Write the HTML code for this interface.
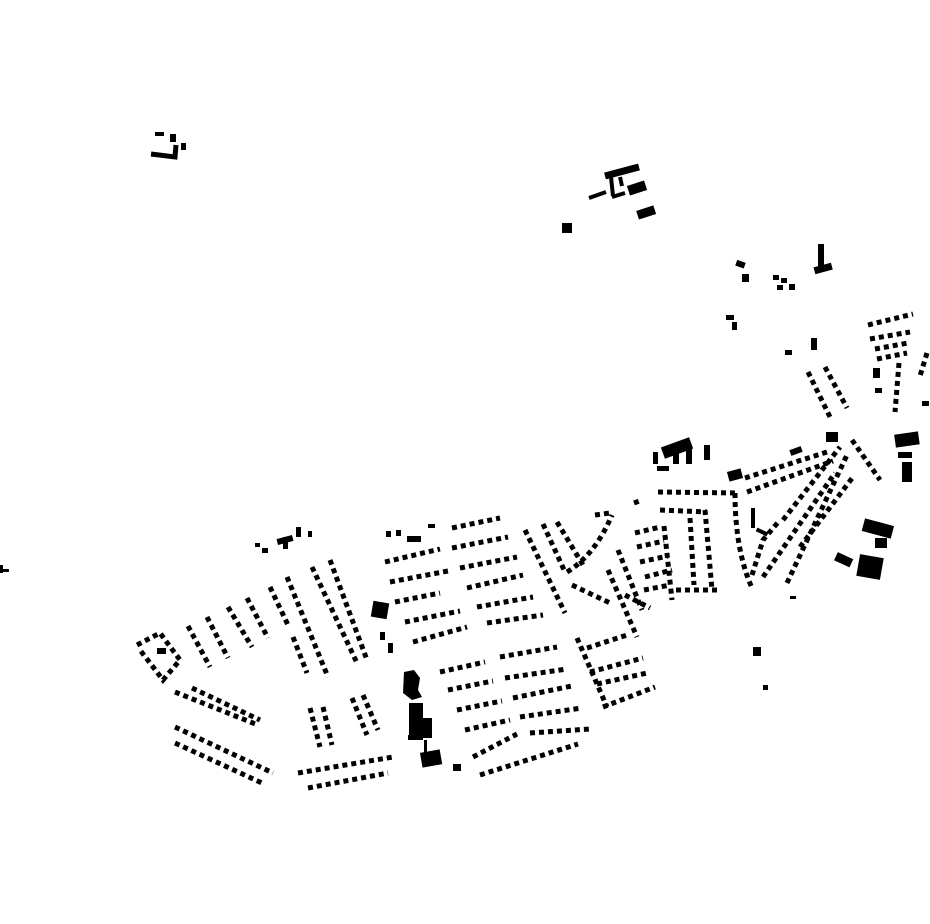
<!DOCTYPE html>
<html><head><meta charset="utf-8"><style>
html,body{margin:0;padding:0;background:#fff;width:930px;height:924px;overflow:hidden}
svg{display:block}
.s{fill:none;stroke:#000;stroke-width:5;stroke-dasharray:5 4}
.l{fill:none;stroke:#000}
</style></head><body>
<svg width="930" height="924" viewBox="0 0 930 924" xmlns="http://www.w3.org/2000/svg">
<g fill="#000">
<path class="l" stroke-width="5" d="M151 154 L175 157 L176 145"/>
<rect x="155" y="132" width="9" height="4"/><rect x="170" y="134" width="6" height="8"/><rect x="181" y="143" width="5" height="7"/>
<rect x="0" y="565" width="3" height="8"/><rect x="0" y="569" width="9" height="3"/>
<path class="l" stroke-width="7" d="M605 176 L639 167"/>
<path class="l" stroke-width="4" d="M611 177 L613 196 M620 177 L622 186 M612 197 L625 193 M589 198 L606 192"/>
<rect x="628" y="183" width="18" height="10" transform="rotate(-18 637 188)"/>
<rect x="637" y="208" width="18" height="9" transform="rotate(-18 646 212)"/>
<rect x="562" y="223" width="10" height="10"/>
<rect x="736" y="261" width="9" height="6" transform="rotate(20 740 264)"/><rect x="742" y="274" width="7" height="8"/>
<rect x="773" y="275" width="6" height="5"/><rect x="781" y="278" width="6" height="5"/><rect x="777" y="285" width="6" height="5"/><rect x="789" y="284" width="6" height="6"/>
<rect x="818" y="244" width="6" height="24"/><rect x="814" y="265" width="18" height="7" transform="rotate(-15 823 268)"/>
<rect x="726" y="315" width="8" height="5"/><rect x="732" y="322" width="5" height="8"/>
<rect x="811" y="338" width="6" height="12"/><rect x="785" y="350" width="7" height="5"/>
<path class="s" d="M868 325 L913 314 M870 339 L910 332 M875 349 L908 343 M877 359 L907 353 M899 363 L895 412 M927 353 L920 376"/>
<rect x="873" y="368" width="7" height="10"/><rect x="875" y="388" width="7" height="5"/><rect x="922" y="401" width="7" height="5"/>
<path class="s" d="M808 372 L830 417 M825 367 L847 408"/>
<rect x="895" y="433" width="24" height="13" transform="rotate(-8 907 440)"/><rect x="898" y="452" width="14" height="6"/><rect x="902" y="462" width="10" height="20"/>
<path class="s" d="M852 440 L880 480"/>
<rect x="653" y="452" width="5" height="12"/>
<rect x="662" y="442" width="30" height="12" transform="rotate(-20 677 448)"/>
<rect x="673" y="452" width="6" height="12"/><rect x="686" y="448" width="6" height="16"/><rect x="704" y="445" width="6" height="15"/>
<rect x="657" y="466" width="12" height="5"/>
<rect x="728" y="470" width="14" height="10" transform="rotate(-15 735 475)"/>
<rect x="790" y="448" width="12" height="6" transform="rotate(-20 796 451)"/>
<path class="s" d="M745 478 L827 452 M747 492 L833 461 M658 492 L737 493"/>
<path class="s" d="M783 520 L840 447 M787 583 L847 455 M763 577 L835 473 M800 547 L853 477 M735 493 Q735 550 752 588 M752 575 L763 540 L780 520"/>
<rect x="751" y="508" width="4" height="20"/>
<rect x="756" y="530" width="12" height="4" transform="rotate(25 762 532)"/>
<rect x="826" y="432" width="12" height="10"/>
<rect x="863" y="522" width="30" height="13" transform="rotate(15 878 528)"/>
<rect x="875" y="538" width="12" height="10"/>
<rect x="858" y="556" width="24" height="22" transform="rotate(10 870 567)"/>
<rect x="835" y="555" width="17" height="9" transform="rotate(25 843 560)"/>
<rect x="790" y="596" width="6" height="3"/>
<rect x="753" y="647" width="8" height="9"/><rect x="763" y="685" width="5" height="5"/>
<path class="s" d="M660 510 L707 512 M664 526 L672 600 M690 518 L694 585 M705 510 L712 590 M676 590 L717 590"/>
<path class="s" d="M635 533 L660 527 M637 547 L664 541 M640 562 L668 556 M645 577 L672 570 M644 590 L670 585 M634 503 L642 500"/>
<path class="s" d="M525 530 L565 613 M543 524 L565 572 M557 522 L583 565 M567 572 Q595 555 612 515 M595 515 L610 513"/>
<path class="s" d="M608 570 L637 637 M618 550 L642 610 M572 585 L610 603 M625 595 L650 608"/>
<path class="s" d="M577 638 L607 707 M587 648 L627 635 M590 672 L643 658 M597 684 L647 673 M603 707 L655 687"/>
<path class="s" d="M452 528 L500 518 M385 562 L440 549 M452 548 L508 537 M390 582 L448 571 M460 568 L517 557 M395 602 L440 593 M467 588 L523 575 M405 622 L460 611 M477 607 L533 597 M413 642 L467 627 M487 623 L543 615"/>
<path class="s" d="M440 672 L485 662 M500 657 L557 647 M448 690 L493 681 M505 678 L567 669 M457 710 L502 701 M513 698 L572 686 M465 730 L510 720 M520 717 L582 708 M473 757 L517 734 M530 733 L590 729 M480 775 L578 744"/>
<rect x="386" y="531" width="5" height="6"/><rect x="396" y="530" width="5" height="6"/><rect x="407" y="536" width="14" height="6"/><rect x="428" y="524" width="7" height="4"/>
<rect x="453" y="764" width="8" height="7"/>
<path d="M404 672 L414 670 L420 678 L418 690 L422 697 L412 700 L403 693 Z"/>
<rect x="409" y="703" width="14" height="37"/><rect x="418" y="718" width="14" height="20"/>
<rect x="408" y="735" width="12" height="5"/>
<rect x="424" y="740" width="3" height="12"/>
<rect x="421" y="751" width="20" height="15" transform="rotate(-10 431 758)"/>
<rect x="372" y="602" width="16" height="16" transform="rotate(10 380 610)"/>
<rect x="380" y="632" width="5" height="8"/><rect x="388" y="643" width="5" height="10"/>
<path class="s" d="M137 645 L160 633 L180 660 L163 680 L140 650"/>
<rect x="157" y="648" width="9" height="6"/>
<path class="s" d="M188 626 L210 667 M207 617 L228 658 M228 607 L252 647 M247 598 L268 638 M270 587 L288 625 M287 577 L328 677 M312 567 L357 663 M330 560 L367 660 M293 637 L307 673"/>
<path class="s" d="M175 692 L258 725 M192 688 L260 720 M175 727 L273 773 M175 743 L262 783 M298 773 L393 757 M308 788 L388 773"/>
<path class="s" d="M310 708 L320 747 M323 707 L332 745 M352 698 L367 735 M363 695 L378 730"/>
<rect x="255" y="543" width="5" height="4"/><rect x="262" y="548" width="6" height="5"/>
<rect x="277" y="537" width="16" height="6" transform="rotate(-15 285 540)"/><rect x="283" y="537" width="5" height="12"/><rect x="296" y="527" width="5" height="10"/><rect x="308" y="531" width="4" height="6"/>
</g>
</svg>
</body></html>
